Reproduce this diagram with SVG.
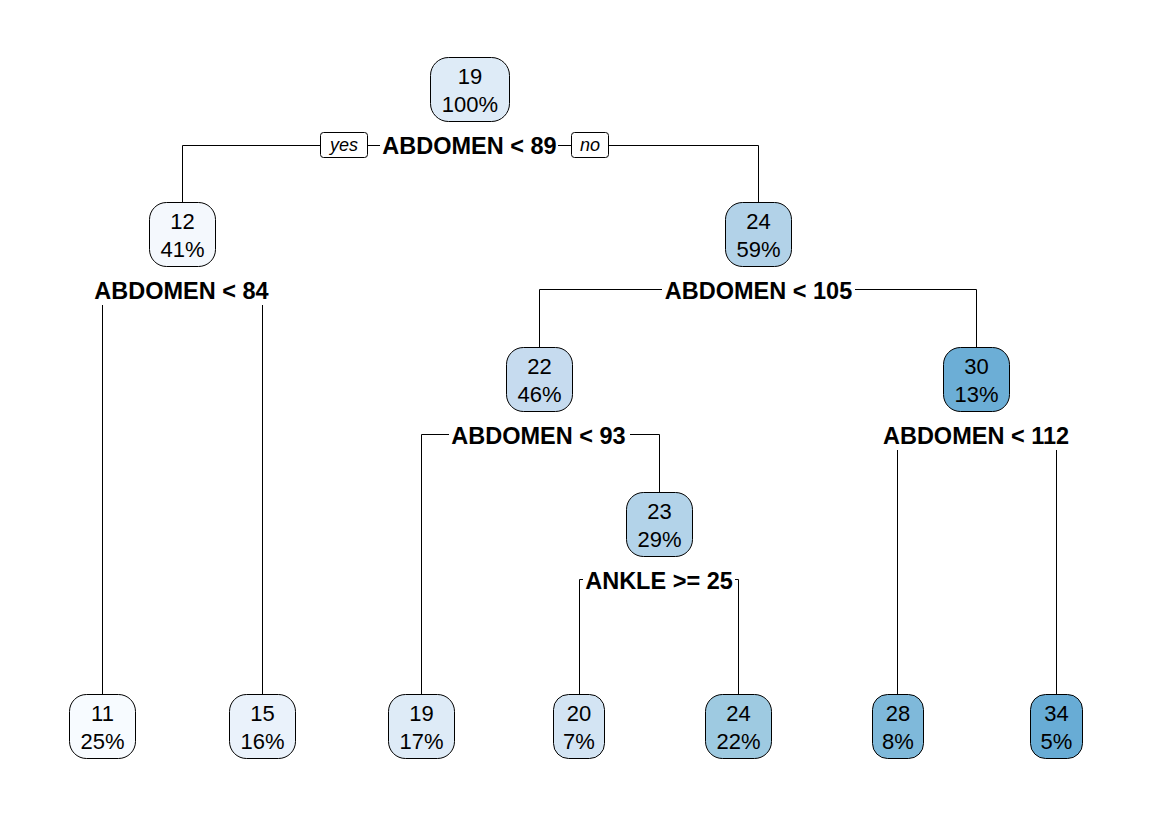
<svg xmlns="http://www.w3.org/2000/svg" width="1153" height="813" viewBox="0 0 1153 813">
<style>
.box{stroke:#000;stroke-width:1}
.nt{font-family:"Liberation Sans",Arial,sans-serif;font-size:22px;text-anchor:middle;fill:#000}
.sp{font-family:"Liberation Sans",Arial,sans-serif;font-size:23.5px;font-weight:bold;text-anchor:middle;fill:#000}
.yn{font-family:"Liberation Sans",Arial,sans-serif;font-size:18px;font-style:italic;text-anchor:middle;fill:#000}
.ln{stroke:#000;stroke-width:1;fill:none}
</style>
<rect width="1153" height="813" fill="#fff"/>
<g id="connectors">
<path class="ln" d="M182.5,202 V145.5 H320 M368,145.5 H380 M558,145.5 H571 M609,145.5 H758.5 V202"/>
<path class="ln" d="M102.5,305 V694 M262.5,305 V694"/>
<path class="ln" d="M539.5,347 V289.5 H662 M855,289.5 H976.5 V347"/>
<path class="ln" d="M421.5,694 V434.5 H449 M630,434.5 H659.5 V492"/>
<path class="ln" d="M897.5,450 V694 M1056.5,450 V694"/>
<path class="ln" d="M583,579.5 H579.5 V694 M735,579.5 H738.5 V694"/>
</g>
<g id="yes"><rect x="320.5" y="132.5" width="47" height="25" rx="3" fill="#fff" stroke="#000"/><text class="yn" x="344" y="151">yes</text></g>
<g id="no"><rect x="571.5" y="132.5" width="37" height="25" rx="3" fill="#fff" stroke="#000"/><text class="yn" x="590" y="151">no</text></g>
<g id="split1"><text class="sp" x="469.5" y="154">ABDOMEN &lt; 89</text></g>
<g id="split2"><text class="sp" x="181.5" y="299">ABDOMEN &lt; 84</text></g>
<g id="split3"><text class="sp" x="758.5" y="299">ABDOMEN &lt; 105</text></g>
<g id="split4"><text class="sp" x="538.5" y="444">ABDOMEN &lt; 93</text></g>
<g id="split5"><text class="sp" x="976" y="444">ABDOMEN &lt; 112</text></g>
<g id="split6"><text class="sp" x="659" y="589">ANKLE &gt;= 25</text></g>
<g id="n1"><rect class="box" x="430.5" y="57.5" width="79" height="64" rx="18" fill="#DEEBF7"/><text class="nt" x="470" y="84">19</text><text class="nt" x="470" y="112">100%</text></g>
<g id="n2"><rect class="box" x="149.5" y="202.5" width="66" height="64" rx="17" fill="#F4F8FD"/><text class="nt" x="182.5" y="229">12</text><text class="nt" x="182.5" y="257">41%</text></g>
<g id="n3"><rect class="box" x="725.5" y="202.5" width="66" height="64" rx="17" fill="#B2D2E8"/><text class="nt" x="758.5" y="229">24</text><text class="nt" x="758.5" y="257">59%</text></g>
<g id="n6"><rect class="box" x="506.5" y="347.5" width="66" height="64" rx="17" fill="#C6DBEF"/><text class="nt" x="539.5" y="374">22</text><text class="nt" x="539.5" y="402">46%</text></g>
<g id="n7"><rect class="box" x="943.5" y="347.5" width="66" height="64" rx="17" fill="#6CAED6"/><text class="nt" x="976.5" y="374">30</text><text class="nt" x="976.5" y="402">13%</text></g>
<g id="n13"><rect class="box" x="626.5" y="492.5" width="66" height="64" rx="17" fill="#B3D3E9"/><text class="nt" x="659.5" y="519">23</text><text class="nt" x="659.5" y="547">29%</text></g>
<g id="n4"><rect class="box" x="69.5" y="694.5" width="66" height="64" rx="17" fill="#F7FBFF"/><text class="nt" x="102.5" y="721">11</text><text class="nt" x="102.5" y="749">25%</text></g>
<g id="n5"><rect class="box" x="229.5" y="694.5" width="66" height="64" rx="17" fill="#EAF2FB"/><text class="nt" x="262.5" y="721">15</text><text class="nt" x="262.5" y="749">16%</text></g>
<g id="n12"><rect class="box" x="388.5" y="694.5" width="66" height="64" rx="17" fill="#DEEBF7"/><text class="nt" x="421.5" y="721">19</text><text class="nt" x="421.5" y="749">17%</text></g>
<g id="n26"><rect class="box" x="553.5" y="694.5" width="51" height="64" rx="15" fill="#D3E4F3"/><text class="nt" x="579" y="721">20</text><text class="nt" x="579" y="749">7%</text></g>
<g id="n27"><rect class="box" x="705.5" y="694.5" width="66" height="64" rx="17" fill="#9ECAE1"/><text class="nt" x="738.5" y="721">24</text><text class="nt" x="738.5" y="749">22%</text></g>
<g id="n14"><rect class="box" x="872.5" y="694.5" width="51" height="64" rx="15" fill="#7FB9DA"/><text class="nt" x="898" y="721">28</text><text class="nt" x="898" y="749">8%</text></g>
<g id="n15"><rect class="box" x="1030.5" y="694.5" width="52" height="64" rx="15" fill="#68ACD5"/><text class="nt" x="1056.5" y="721">34</text><text class="nt" x="1056.5" y="749">5%</text></g>
</svg>
